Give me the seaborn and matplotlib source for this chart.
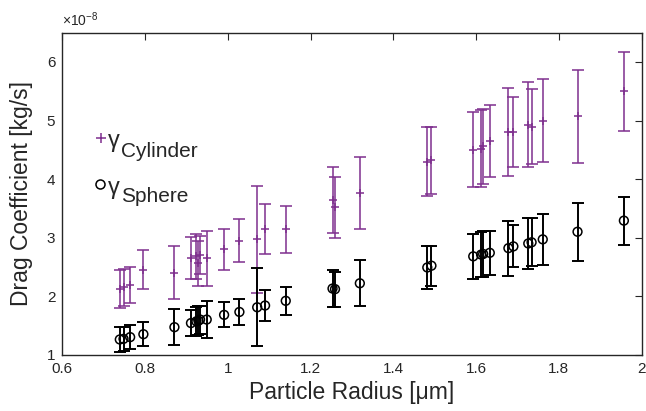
import numpy as np
import pandas as pd
import matplotlib
matplotlib.use("Agg")
import matplotlib.pyplot as plt
import seaborn as sns

# ---- data (drag coefficient in units of 1e-8 kg/s) ----
radius = [0.739, 0.748, 0.764, 0.796, 0.871, 0.911, 0.924, 0.929, 0.933, 0.949,
          0.991, 1.028, 1.071, 1.090, 1.140, 1.253, 1.259, 1.319, 1.482, 1.492,
          1.593, 1.612, 1.617, 1.633, 1.678, 1.690, 1.726, 1.734, 1.761, 1.845, 1.957]
gamma_cyl = [2.12, 2.15, 2.19, 2.45, 2.40, 2.65, 2.68, 2.56, 2.70, 2.65,
             2.80, 2.95, 2.97, 3.15, 3.14, 3.64, 3.52, 3.76, 4.30, 4.32,
             4.50, 4.52, 4.56, 4.65, 4.80, 4.80, 4.93, 4.89, 5.00, 5.07, 5.50]
err_cyl = [0.33, 0.31, 0.31, 0.335, 0.455, 0.36, 0.38, 0.38, 0.33, 0.47,
           0.35, 0.375, 0.92, 0.43, 0.40, 0.56, 0.52, 0.61, 0.585, 0.57,
           0.64, 0.655, 0.64, 0.62, 0.755, 0.60, 0.72, 0.64, 0.705, 0.80, 0.675]
gamma_sph = [1.26, 1.27, 1.30, 1.35, 1.47, 1.54, 1.57, 1.58, 1.60, 1.60,
             1.68, 1.73, 1.81, 1.84, 1.92, 2.13, 2.12, 2.22, 2.49, 2.52,
             2.68, 2.71, 2.72, 2.74, 2.82, 2.85, 2.90, 2.92, 2.97, 3.10, 3.29]
err_sph = [0.22, 0.21, 0.205, 0.20, 0.305, 0.225, 0.245, 0.25, 0.24, 0.32,
           0.215, 0.22, 0.67, 0.265, 0.24, 0.31, 0.30, 0.39, 0.36, 0.345,
           0.39, 0.39, 0.39, 0.38, 0.47, 0.36, 0.44, 0.41, 0.44, 0.495, 0.41]
xticks = [0.6, 0.8, 1.0, 1.2, 1.4, 1.6, 1.8, 2.0]
xticklabels = ["0.6", "0.8", "1", "1.2", "1.4", "1.6", "1.8", "2"]
yticks = [1, 2, 3, 4, 5, 6]

PURPLE = "#7E2F8E"
DARK = "#262626"

sns.set_theme(style="white")
plt.rcParams["font.family"] = ["Liberation Sans", "DejaVu Sans"]
plt.rcParams["mathtext.fontset"] = "custom"
plt.rcParams["mathtext.rm"] = "Liberation Sans"

df = pd.DataFrame({"r": radius, "cyl": gamma_cyl, "ecyl": err_cyl,
                   "sph": gamma_sph, "esph": err_sph})

fig = plt.figure(figsize=(6.46, 4.11), dpi=100)
ax = fig.add_axes([0.0964, 0.137, 0.8969, 0.782])

# error bars
ax.errorbar(df["r"], df["cyl"], yerr=df["ecyl"], fmt="none", ecolor=PURPLE,
            elinewidth=1.1, capsize=4, capthick=1.1, zorder=2)
ax.errorbar(df["r"], df["sph"], yerr=df["esph"], fmt="none", ecolor="black",
            elinewidth=1.4, capsize=4, capthick=1.4, zorder=2)
# markers
sns.scatterplot(data=df, x="r", y="cyl", marker="+", color=PURPLE, s=40,
                linewidth=1.1, ax=ax, zorder=3, legend=False)
sns.scatterplot(data=df, x="r", y="sph", marker="o", facecolor="none",
                edgecolor="black", s=40, linewidth=1.1, ax=ax, zorder=3, legend=False)

ax.set_xlim(0.6, 2.0)
ax.set_ylim(1, 6.49)
ax.set_xticks(xticks)
ax.set_xticklabels(xticklabels)
ax.set_yticks(yticks)
ax.tick_params(axis="both", direction="in", length=5, width=0.8, colors=DARK,
               labelsize=11, top=True, right=True, pad=5)
for sp in ax.spines.values():
    sp.set_color(DARK)
    sp.set_linewidth(1.0)
ax.set_xlabel("Particle Radius [μm]", fontsize=16.5, color=DARK, labelpad=4)
ax.set_ylabel("Drag Coefficient [kg/s]", fontsize=16.5, color=DARK, labelpad=10)
ax.text(0.0, 1.012, r"$\times\mathregular{10^{-8}}$", transform=ax.transAxes,
        fontsize=10, color=DARK, ha="left", va="bottom")

# legend (manual, no frame)
ax.plot([0.0668], [0.674], marker="+", color=PURPLE, ms=7, mew=1.1,
        transform=ax.transAxes, clip_on=False)
ax.text(0.078, 0.646, "γ", transform=ax.transAxes, fontsize=17, color=DARK,
        va="baseline", ha="left")
ax.text(0.101, 0.615, "Cylinder", transform=ax.transAxes, fontsize=15, color=DARK,
        va="baseline", ha="left")
ax.plot([0.065], [0.531], marker="o", mfc="none", mec="black", ms=6.5, mew=1.1,
        transform=ax.transAxes, clip_on=False)
ax.text(0.078, 0.500, "γ", transform=ax.transAxes, fontsize=17, color=DARK,
        va="baseline", ha="left")
ax.text(0.101, 0.476, "Sphere", transform=ax.transAxes, fontsize=15, color=DARK,
        va="baseline", ha="left")

fig.savefig("out.png", dpi=100)
